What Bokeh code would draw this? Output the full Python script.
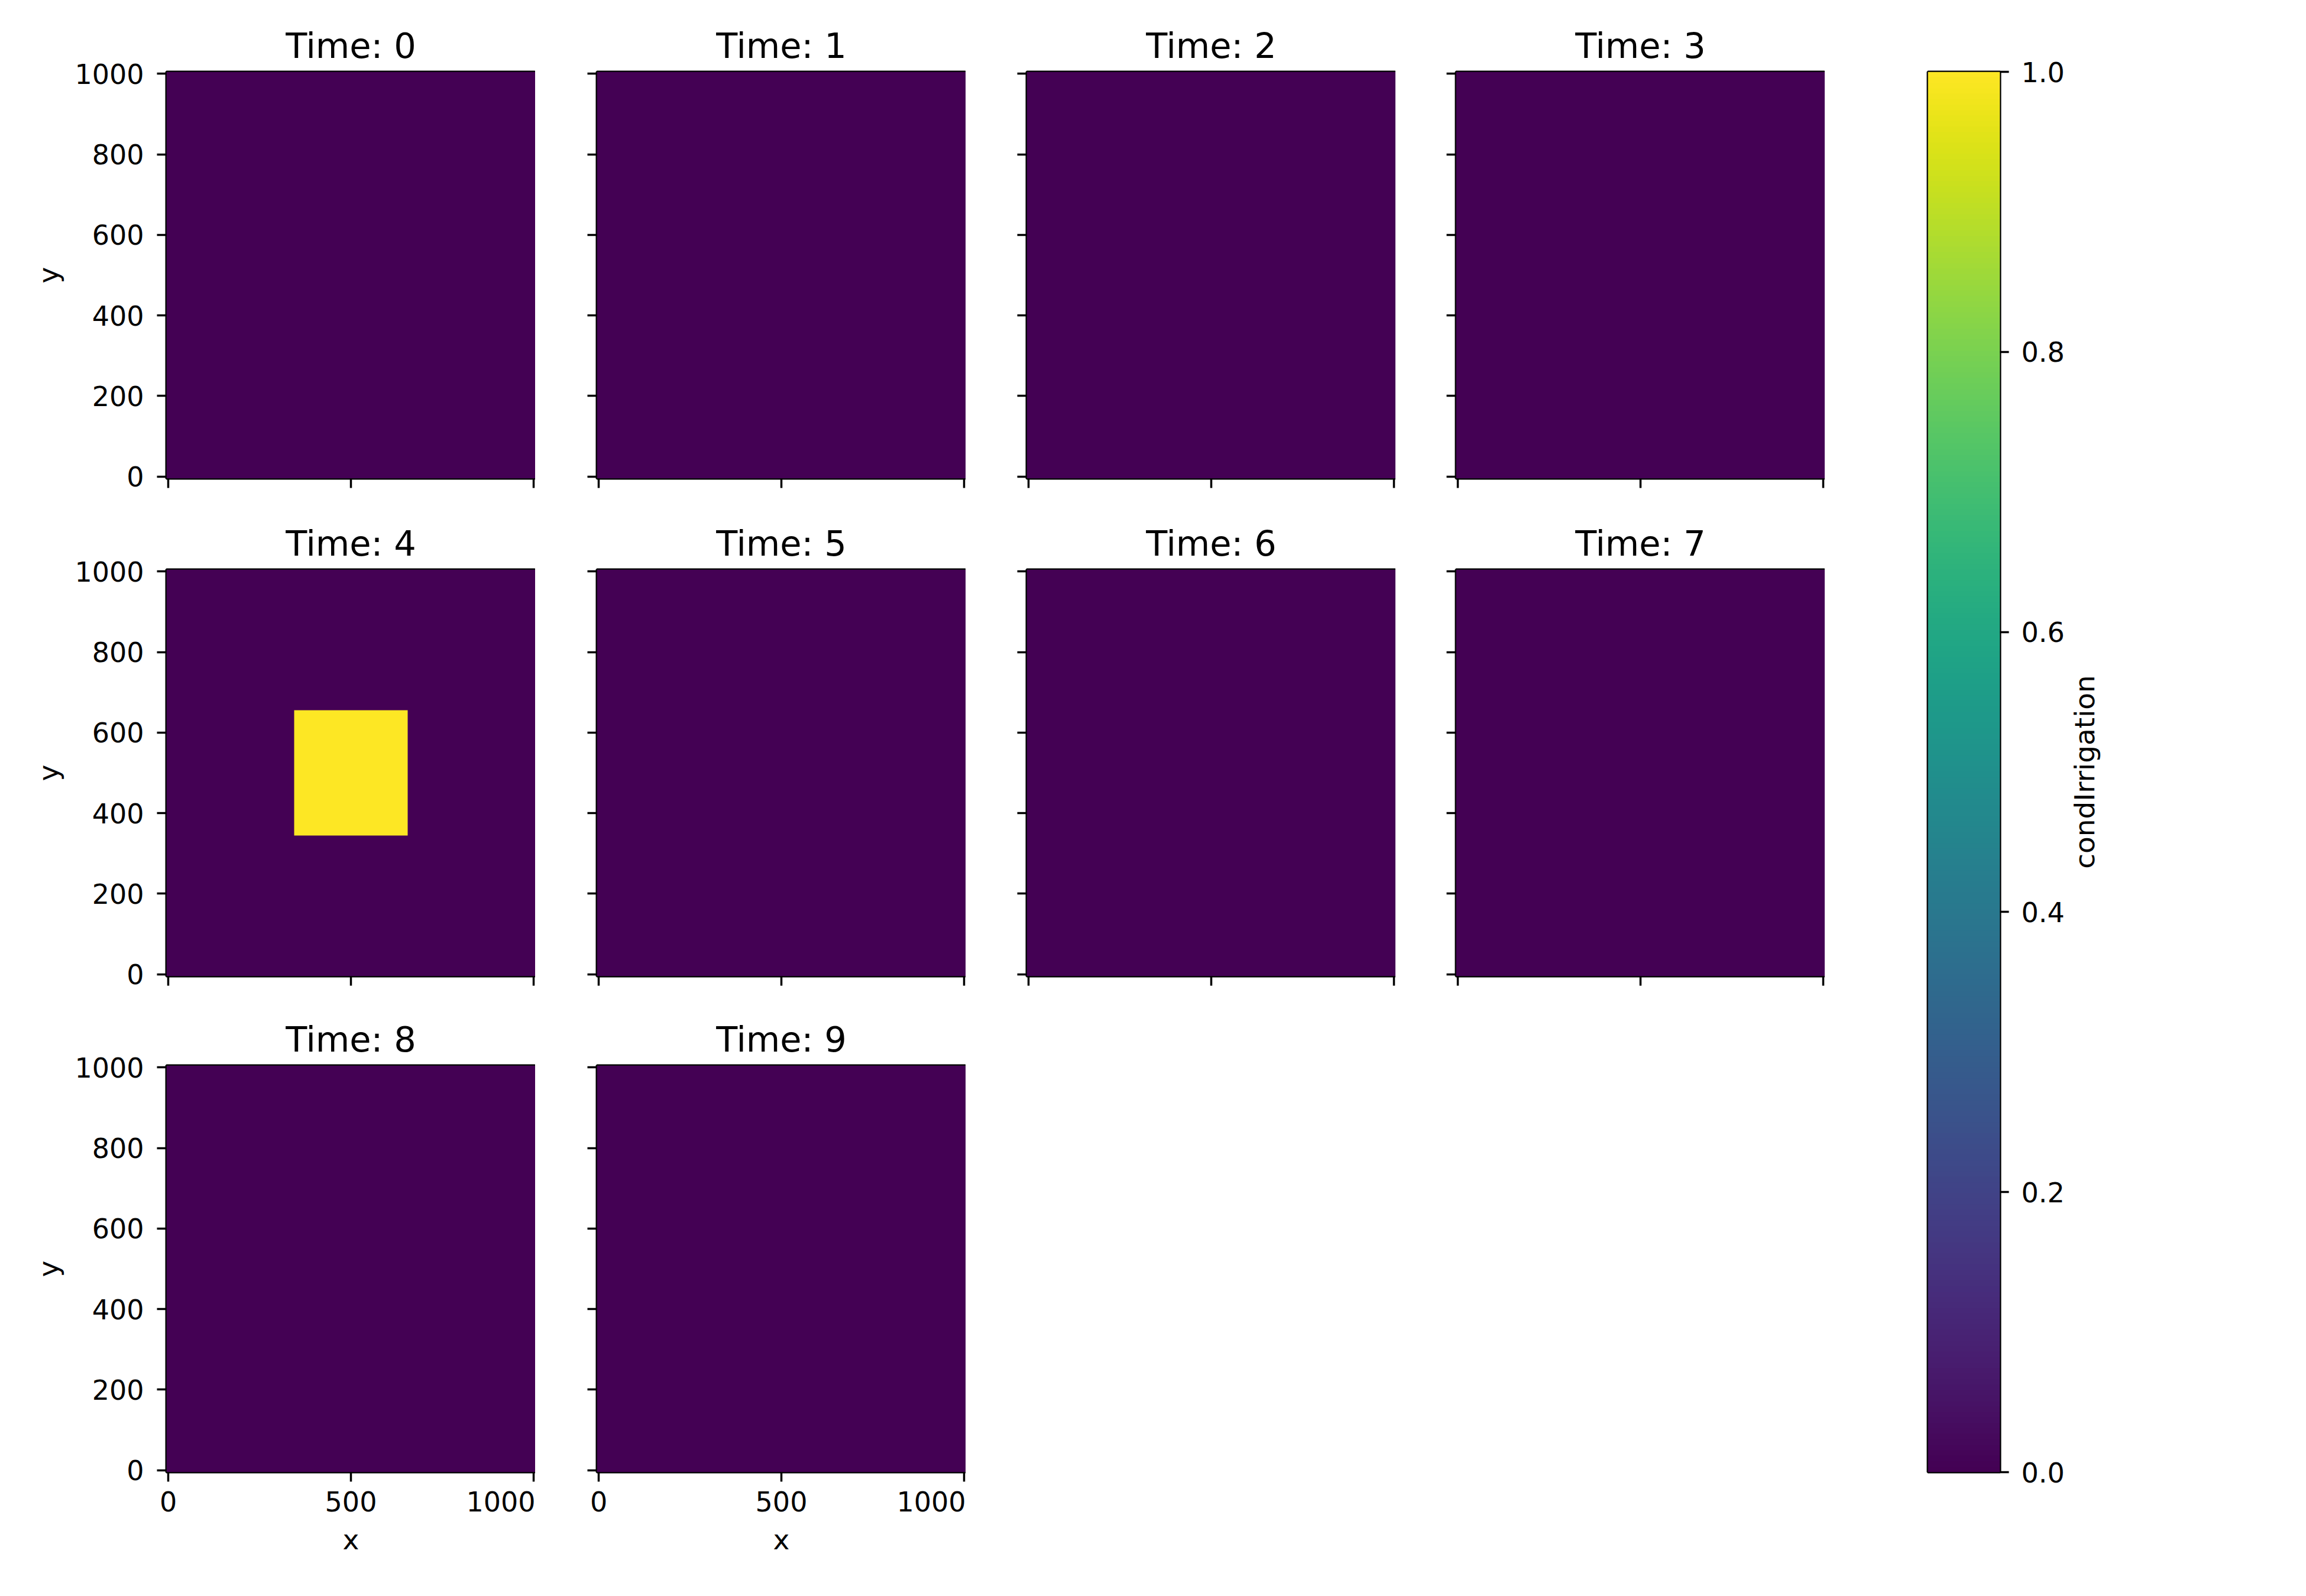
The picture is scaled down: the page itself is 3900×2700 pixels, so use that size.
import numpy as np
from math import pi
from bokeh.plotting import figure
from bokeh.layouts import row, column
from bokeh.models import (Range1d, LinearColorMapper, FixedTicker, PrintfTickFormatter,
                          CustomLabelingPolicy)
from bokeh.palettes import Viridis256
from bokeh.embed import file_html
from bokeh.resources import INLINE
from bokeh.core.properties import value

# ---------------- data ----------------
times = [0, 1, 2, 3, 4, 5, 6, 7, 8, 9]
x_centres = list(range(0, 1001, 10))        # grid cell centres (x)
y_centres = list(range(0, 1001, 10))        # grid cell centres (y)
cell_size = 10
# cells where condIrrigation == 1, per time step: (x_min, x_max, y_min, y_max) of cell centres
irrigated_cells = {4: (350, 650, 350, 650)}
irrigated_value = 1.0
background_value = 0.0
x_ticks = [0, 500, 1000]
y_ticks = [0, 200, 400, 600, 800, 1000]
cbar_ticks = [0.0, 0.2, 0.4, 0.6, 0.8, 1.0]
cbar_low, cbar_high = 0.0, 1.0
cbar_label = "condIrrigation"

# ---------------- style / layout ----------------
FONT = "DejaVu Sans"
TICK_FS = "46px"
TITLE_FS = "59px"
LABEL_FS = "47px"
FRAME_W, FRAME_H = 624, 688
COL_LEFT = [281, 104, 103, 102]
ROW_TOP = [121, 104, 101]
ROW_BOTTOM = [50, 50, 180]
NCOLS = 4

xc = np.array(x_centres)
yc = np.array(y_centres)
x0, x1 = xc.min() - cell_size / 2, xc.max() + cell_size / 2
y0, y1 = yc.min() - cell_size / 2, yc.max() + cell_size / 2

mapper = LinearColorMapper(palette=Viridis256, low=cbar_low, high=cbar_high)


def field(t):
    grid = np.full((len(yc), len(xc)), background_value)
    if t in irrigated_cells:
        a, b, c, d = irrigated_cells[t]
        mx = (xc >= a) & (xc <= b)
        my = (yc >= c) & (yc <= d)
        grid[np.ix_(my, mx)] = irrigated_value
    return grid


def style_axis(ax, show_labels, ticks):
    ax.ticker = FixedTicker(ticks=ticks)
    ax.major_tick_in = 0
    ax.major_tick_out = 16
    ax.major_tick_line_width = 3.5
    ax.major_tick_line_color = "black"
    ax.minor_tick_line_color = None
    ax.axis_line_color = None
    ax.major_label_text_font = FONT
    ax.major_label_text_color = "black"
    ax.axis_label_text_font = FONT
    ax.axis_label_text_font_style = "normal"
    ax.axis_label_text_font_size = LABEL_FS
    ax.axis_label_text_color = "black"
    if show_labels:
        ax.major_label_text_font_size = TICK_FS
        ax.major_label_standoff = 16
    else:
        # tick marks only (shared axis): no tick labels drawn
        ax.major_label_text_font_size = "0px"
        ax.major_label_standoff = 0
        ax.major_label_overrides = {tk: "" for tk in ticks}
        ax.major_label_policy = CustomLabelingPolicy(code="return null")


panels = []
for i, t in enumerate(times):
    r, c = divmod(i, NCOLS)
    bottom_row = r == 2
    p = figure(
        frame_width=FRAME_W, frame_height=FRAME_H,
        min_border_left=COL_LEFT[c], min_border_right=0,
        min_border_top=ROW_TOP[r], min_border_bottom=ROW_BOTTOM[r],
        x_range=Range1d(x0, x1), y_range=Range1d(y0, y1),
        output_backend="svg", toolbar_location=None,
        title=f"Time: {t}",
    )
    p.image(image=[field(t)], x=x0, y=y0, dw=x1 - x0, dh=y1 - y0, color_mapper=mapper)
    p.grid.visible = False
    p.outline_line_color = "black"
    p.outline_line_width = 4
    p.background_fill_color = "white"
    p.border_fill_color = "white"
    p.title.align = "center"
    p.title.text_font = FONT
    p.title.text_font_size = TITLE_FS
    p.title.text_font_style = "normal"
    p.title.text_color = "black"
    p.title.standoff = 19
    style_axis(p.xaxis[0], bottom_row, x_ticks)
    style_axis(p.yaxis[0], c == 0, y_ticks)
    if bottom_row:
        p.xaxis.axis_label = "x"
        p.xaxis.axis_label_standoff = 17
    if c == 0:
        p.yaxis.major_label_standoff = 22
        p.yaxis.axis_label = "y"
        p.yaxis.axis_label_standoff = 14
    panels.append(p)

rows = [row(*panels[k:k + NCOLS]) for k in range(0, len(panels), NCOLS)]
grid_col = column(*rows)

# ---------------- colour bar ----------------
CB_FRAME_H = sum(ROW_TOP) + 3 * FRAME_H + sum(ROW_BOTTOM) - ROW_TOP[0] - ROW_BOTTOM[-1]
cb = figure(
    frame_width=122, frame_height=CB_FRAME_H,
    min_border_left=174, min_border_right=100,
    min_border_top=ROW_TOP[0], min_border_bottom=ROW_BOTTOM[-1],
    x_range=Range1d(0, 1), y_range=Range1d(cbar_low, cbar_high),
    x_axis_location=None, y_axis_location="right",
    output_backend="svg", toolbar_location=None,
)
gradient = np.linspace(cbar_low, cbar_high, 256).reshape(256, 1)
cb.image(image=[gradient], x=0, y=cbar_low, dw=1, dh=cbar_high - cbar_low, color_mapper=mapper)
cb.grid.visible = False
cb.outline_line_color = "black"
cb.outline_line_width = 4
cb.yaxis.formatter = PrintfTickFormatter(format="%.1f")
style_axis(cb.yaxis[0], True, cbar_ticks)
cb.yaxis.major_tick_out = 15
cb.yaxis.major_label_standoff = 21

lab = figure(
    frame_width=62, frame_height=CB_FRAME_H,
    min_border_left=0, min_border_right=0,
    min_border_top=ROW_TOP[0], min_border_bottom=ROW_BOTTOM[-1],
    x_range=Range1d(0, 1), y_range=Range1d(0, 1),
    x_axis_location=None, y_axis_location=None,
    output_backend="svg", toolbar_location=None,
)
lab.grid.visible = False
lab.outline_line_color = None
lab.text(x=[0.5], y=[0.5], text=[cbar_label], angle=pi / 2,
         text_align="center", text_baseline="middle",
         text_font=value(FONT), text_font_size=LABEL_FS, text_color="black")

layout = row(grid_col, cb, lab)

with open("out.html", "w") as f:
    f.write(file_html(layout, INLINE))
